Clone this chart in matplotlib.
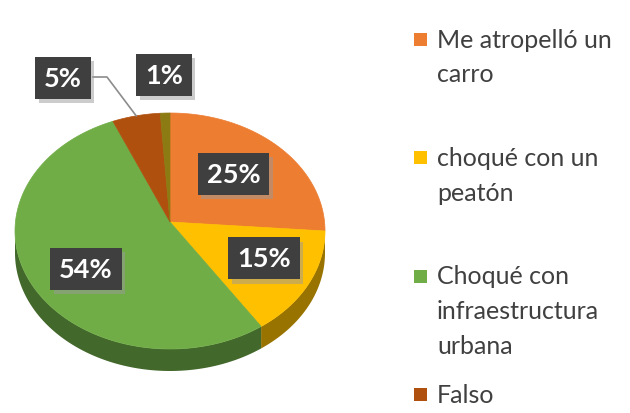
import numpy as np
import matplotlib
matplotlib.use("Agg")
import matplotlib.pyplot as plt
from matplotlib.patches import Polygon, Rectangle
from matplotlib.colors import to_rgb
import matplotlib.patheffects as pe

# ---- data ----
values = [25, 15, 54, 5, 1]
pct_labels = ["25%", "15%", "54%", "5%", "1%"]
colors = ["#ED7D31", "#FFC000", "#70AD47", "#B0500F", "#8C7A12"]
legend_labels = ["Me atropelló un\ncarro", "choqué con un\npeatón",
                 "Choqué con\ninfraestructura\nurbana", "Falso"]

plt.rcParams['font.family'] = ['Lato', 'DejaVu Sans']

fig = plt.figure(figsize=(6.3, 4.14), dpi=100)
fig.patch.set_facecolor("white")
ax = fig.add_axes([0, 0, 1, 1])
ax.set_xlim(0, 630)
ax.set_ylim(414, 0)
ax.axis("off")

# ---- pseudo 3D pie geometry (pixel-like coords, y down) ----
cx, cy = 170, 232
rx, ry = 155, 118
apex = (170, 223)
depth = 22

def pt(theta_deg, dy=0.0):
    t = np.deg2rad(theta_deg)
    return (cx + rx * np.sin(t), cy - ry * np.cos(t) + dy)

def darker(c, f):
    r, g, b = to_rgb(c)
    return (r * f, g * f, b * f)

total = float(sum(values))
bounds = np.concatenate([[0], np.cumsum(values) / total * 360.0])

# side walls (visible between 90 and 270 deg clockwise from top)
for i, c in enumerate(colors):
    a0, a1 = bounds[i], bounds[i + 1]
    s0, s1 = max(a0, 90), min(a1, 270)
    if s1 <= s0:
        continue
    ang = np.linspace(s0, s1, 80)
    top = [pt(a) for a in ang]
    bot = [pt(a, depth) for a in ang[::-1]]
    ax.add_patch(Polygon(top + bot, closed=True, fc=darker(c, 0.6),
                         ec="none", zorder=1))

# top faces
for i, c in enumerate(colors):
    a0, a1 = bounds[i], bounds[i + 1]
    ang = np.linspace(a0, a1, max(int((a1 - a0) * 2), 4))
    poly = [apex] + [pt(a) for a in ang]
    ax.add_patch(Polygon(poly, closed=True, fc=c, ec=c, lw=0.5, zorder=2))

# ---- data labels ----
fs = 19.5

def label(x, y, s):
    t = ax.text(x, y, s, fontsize=fs, fontweight="bold", color="white",
                ha="center", va="center", zorder=5,
                bbox=dict(boxstyle="square,pad=0.33", fc="#3F3F3F", ec="none"))
    t.get_bbox_patch().set_path_effects(
        [pe.SimplePatchShadow(offset=(2.5, -3), shadow_rgbFace="#9A9A9A", alpha=0.5),
         pe.Normal()])

inner_k = [0.58, 0.68, 0.62]
for i in range(3):
    mid = (bounds[i] + bounds[i + 1]) / 2
    t = np.deg2rad(mid)
    x = apex[0] + rx * inner_k[i] * np.sin(t)
    y = apex[1] - ry * inner_k[i] * np.cos(t) + (12 if i == 2 else 0)
    label(x, y, pct_labels[i])

# outside labels
label(63, 79, pct_labels[3])
label(164, 76, pct_labels[4])
mid5 = (bounds[3] + bounds[4]) / 2
ex, ey = pt(mid5)
ax.plot([93, 107, ex], [78, 78, ey], color="#8C8C8C", lw=1.2, zorder=3)

# ---- legend ----
y0, step, line_gap = 40, 118.5, 35
for i, lab in enumerate(legend_labels):
    yy = y0 + i * step
    ax.add_patch(Rectangle((414, yy - 6.5), 13, 13, fc=colors[i], ec="none"))
    for j, line in enumerate(lab.split("\n")):
        ax.text(437, yy + j * line_gap, line, fontsize=18, color="#404040",
                ha="left", va="center")

fig.savefig("out.png", dpi=100, facecolor="white")
